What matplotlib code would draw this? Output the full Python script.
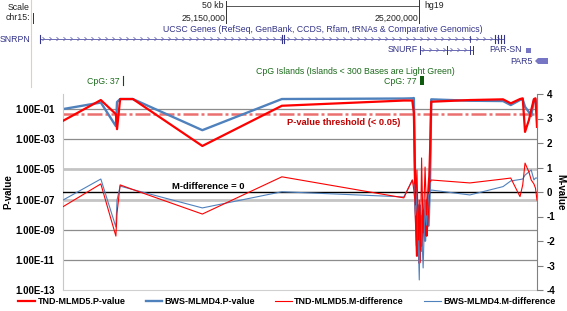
import matplotlib
matplotlib.use('Agg')
import matplotlib.pyplot as plt
import numpy as np
from matplotlib.collections import LineCollection
from matplotlib.patches import Rectangle, Polygon

plt.rcParams['font.family'] = ['Liberation Sans', 'DejaVu Sans']

# ---------------- data ----------------
position_kb = [25107.8, 25117.6, 25121.5, 25121.8, 25122.6, 25125.9, 25143.9, 25164.5,
               25196.1, 25198.3, 25198.7, 25199.1, 25199.5, 25199.9, 25200.1, 25200.4,
               25200.7, 25201.1, 25201.6, 25202.0, 25202.5, 25202.9, 25203.2, 25213.2,
               25221.8, 25223.8, 25226.2, 25226.9, 25227.5, 25228.5, 25229.1, 25229.8,
               25230.2, 25230.6]
tnd_pvalue = [0.0166, 0.398, 0.0464, 4.64e-3, 0.464, 0.464, 3.57e-4, 0.166,
              0.369, 0.369, 0.0541, 8.6e-8, 1.85e-11, 8.6e-9, 6.3e-12, 2.9e-9,
              8.6e-11, 1.85e-8, 1.85e-9, 4.0e-10, 8.6e-8, 1.85e-4, 0.307, 0.398,
              0.443, 0.24, 0.464, 0.517, 3.07e-3, 0.0185, 0.0858, 0.464,
              0.517, 6.6e-3]
bws_pvalue = [0.1, 0.271, 7.4e-3, 0.293, 0.464, 0.464, 3.98e-3, 0.464,
              0.501, 0.517, 0.541, 8.6e-8, 8.6e-11, 4.0e-8, 8.6e-12, 8.6e-9,
              4.0e-11, 8.6e-9, 1.85e-10, 8.6e-8, 1.85e-9, 1.85e-6, 0.443, 0.357,
              0.341, 0.185, 0.398, 0.443, 0.142, 0.063, 0.0341, 0.398,
              0.443, 0.0858]
tnd_mdiff = [-0.60, 0.33, -1.80, -0.86, 0.29, 0.10, -0.90, 0.62,
             -0.24, 0.49, 0.08, -0.53, 0.90, -1.96, -0.33, -2.37,
             1.39, -1.67, 1.02, -0.94, 0.57, 0.41, 0.49, 0.37,
             0.53, 0.57, -0.19, 0.29, 1.18, 0.82, 0.49, 0.33,
             0.16, -0.33]
bws_mdiff = [-0.33, 0.53, -1.43, -0.33, 0.24, 0.10, -0.65, 0.01,
             -0.20, 0.49, 0.29, -0.94, 0.08, -2.37, -3.59, -0.53,
             -1.55, -3.10, -0.33, -1.35, -0.12, 0.00, 0.08, -0.12,
             0.22, 0.45, 0.51, 0.53, 0.69, 0.82, 0.90, 0.49,
             0.57, 0.57]
series_names = ['TND-MLMD5.P-value', 'BWS-MLMD4.P-value',
                'TND-MLMD5.M-difference', 'BWS-MLMD4.M-difference']
pvalue_ticks = [1e-1, 1e-3, 1e-5, 1e-7, 1e-9, 1e-11, 1e-13]
pvalue_tick_labels = ['1.00E-01', '1.00E-03', '1.00E-05', '1.00E-07',
                      '1.00E-09', '1.00E-11', '1.00E-13']
mvalue_ticks = [4, 3, 2, 1, 0, -1, -2, -3, -4]
p_threshold = 0.05
m_zero = 0

RED = '#ff0000'
BLUE = '#4f81bd'

W, H = 567, 311
fig = plt.figure(figsize=(W / 100, H / 100), dpi=100)

# ---------------- main chart ----------------
ax = fig.add_axes([63 / W, 21 / H, 474 / W, 196 / H])
ax.set_yscale('log')
ax.set_ylim(1e-13, 1)
ax.set_xlim(position_kb[0], position_kb[-1])
ax.patch.set_visible(False)

dark_grid = [1e-1, 1e-3, 1e-9, 1e-11]
light_grid = [1e-5, 1e-7]
for g in dark_grid:
    ax.axhline(g, color='#8c8c8c', lw=0.9, zorder=0)
for g in light_grid:
    ax.axhline(g, color='#c4c4c4', lw=2.0, zorder=0)

ax.set_yticks(pvalue_ticks)
ax.set_yticklabels(pvalue_tick_labels, fontweight='bold', fontsize=7)
ax.yaxis.set_minor_locator(matplotlib.ticker.NullLocator())
ax.tick_params(axis='y', length=0, pad=6)
ax.set_xticks([])
for s in ['top', 'right']:
    ax.spines[s].set_visible(False)
ax.spines['left'].set_color('#c8c8c8')
ax.spines['bottom'].set_color('#d0d0d0')

ax.axhline(p_threshold, color='#ea7070', lw=1.8, ls=(0, (6, 1.2, 1.2, 1.2)), zorder=1)

l1, = ax.plot(position_kb, tnd_pvalue, color=RED, lw=1.6, zorder=3)
l2, = ax.plot(position_kb, bws_pvalue, color=BLUE, lw=1.7, zorder=2)

ax.text(0.472, 0.857, 'P-value threshold (< 0.05)', transform=ax.transAxes,
        color='#c00000', fontweight='bold', fontsize=6.7, va='center', ha='left')

ax2 = ax.twinx()
ax2.set_ylim(-4, 4)
ax2.set_yticks(mvalue_ticks)
ax2.set_yticklabels([str(v) for v in mvalue_ticks], fontweight='bold', fontsize=7)
ax2.tick_params(axis='y', length=4, color='#808080', direction='out', pad=3)
for s in ['top', 'left', 'bottom']:
    ax2.spines[s].set_visible(False)
ax2.spines['right'].set_color('#808080')
ax2.axhline(m_zero, color='black', lw=1.0, zorder=1)
l3, = ax2.plot(position_kb, tnd_mdiff, color=RED, lw=0.8, zorder=3)
l4, = ax2.plot(position_kb, bws_mdiff, color=BLUE, lw=0.8, zorder=2)
ax2.text(0.307, 0.53, 'M-difference = 0', transform=ax2.transAxes,
         color='black', fontweight='bold', fontsize=6.8, va='center', ha='center')

fig.text(8 / W, 1 - 192 / H, 'P-value', rotation=90, fontweight='bold', fontsize=7,
         ha='center', va='center')
fig.text(560 / W, 1 - 192 / H, 'M-value', rotation=-90, fontweight='bold', fontsize=7,
         ha='center', va='center')

leg = fig.legend([l1, l2, l3, l4], series_names, loc='center', ncol=4,
                 bbox_to_anchor=(287 / W, 1 - 302 / H), frameon=False,
                 prop={'weight': 'bold', 'size': 6.5}, handlelength=1.8,
                 handletextpad=0.3, columnspacing=2.25, borderaxespad=0, borderpad=0)

# ---------------- genome browser header ----------------
ov = fig.add_axes([0, 0, 1, 1])
ov.set_xlim(0, W)
ov.set_ylim(H, 0)
ov.axis('off')
ov.patch.set_visible(False)

NAVY = '#34348a'
GENE = '#6a6ab4'
GREEN = '#1d6b1d'
fs = 6.3

ov.plot([31, 31], [0, 87], color='#f2c4c4', lw=0.8)
ov.text(30, 7, 'Scale', ha='right', va='center', fontsize=fs, color='#222222')
ov.text(30, 18, 'chr15:', ha='right', va='center', fontsize=fs, color='#222222')
ov.plot([33, 33], [13, 23], color='#333333', lw=0.7)
ov.text(224, 6, '50 kb', ha='right', va='center', fontsize=fs, color='#222222')
ov.plot([226, 419], [6, 6], color='#555555', lw=0.7)
ov.plot([226, 226], [1, 11], color='#333333', lw=0.7)
ov.plot([419, 419], [0, 11], color='#333333', lw=0.7)
ov.plot([226, 226], [12, 23], color='#333333', lw=0.7)
ov.plot([419, 419], [12, 23], color='#333333', lw=0.7)
ov.text(424, 5, 'hg19', ha='left', va='center', fontsize=fs, color='#222222')
ov.text(225, 18, '25,150,000', ha='right', va='center', fontsize=fs, color='#222222')
ov.text(418, 18, '25,200,000', ha='right', va='center', fontsize=fs, color='#222222')

ov.text(323, 29, 'UCSC Genes (RefSeq, GenBank, CCDS, Rfam, tRNAs & Comparative Genomics)',
        ha='center', va='center', fontsize=fs, color=NAVY)
ov.text(0, 39, 'SNRPN', ha='left', va='center', fontsize=fs, color=NAVY)


def gene_line(x0, x1, y, step=7):
    ov.plot([x0, x1], [y, y], color=GENE, lw=0.7)
    segs = []
    for xc in np.arange(x0 + 4, x1 - 2, step):
        segs.append([(xc - 1.5, y - 1.8), (xc + 0.5, y), (xc - 1.5, y + 1.8)])
    ov.add_collection(LineCollection(segs, colors=GENE, linewidths=0.6))


gene_line(40, 504, 39)
for xt in [40, 282, 284, 495, 498, 501, 504]:
    ov.plot([xt, xt], [35, 43], color=NAVY, lw=0.8)
for xt in [470]:
    ov.plot([xt, xt], [36, 42], color=NAVY, lw=0.6)

ov.text(418, 50, 'SNURF', ha='right', va='center', fontsize=fs, color=NAVY)
gene_line(420, 473, 50)
for xt in [420, 447, 470, 473]:
    ov.plot([xt, xt], [46, 54], color=NAVY, lw=0.7)
ov.text(489, 50, 'PAR-SN', ha='left', va='center', fontsize=fs, color=NAVY)
ov.add_patch(Rectangle((526, 47.5), 5, 5, color='#7676c4', lw=0))
ov.text(510, 61, 'PAR5', ha='left', va='center', fontsize=fs, color=NAVY)
ov.add_patch(Polygon([(535, 61), (538, 58), (548, 58), (548, 64), (538, 64)],
                     closed=True, color='#7676c4', lw=0))

ov.text(355, 72, 'CpG Islands (Islands < 300 Bases are Light Green)',
        ha='center', va='center', fontsize=fs, color=GREEN)
ov.text(120, 81, 'CpG: 37', ha='right', va='center', fontsize=fs, color=GREEN)
ov.plot([123, 123], [76, 85], color='#0d4d0d', lw=0.8)
ov.text(417, 81, 'CpG: 77', ha='right', va='center', fontsize=fs, color=GREEN)
ov.add_patch(Rectangle((420, 76), 4, 9, color='#0e5a0e', lw=0))

fig.savefig('out.png', dpi=100)
